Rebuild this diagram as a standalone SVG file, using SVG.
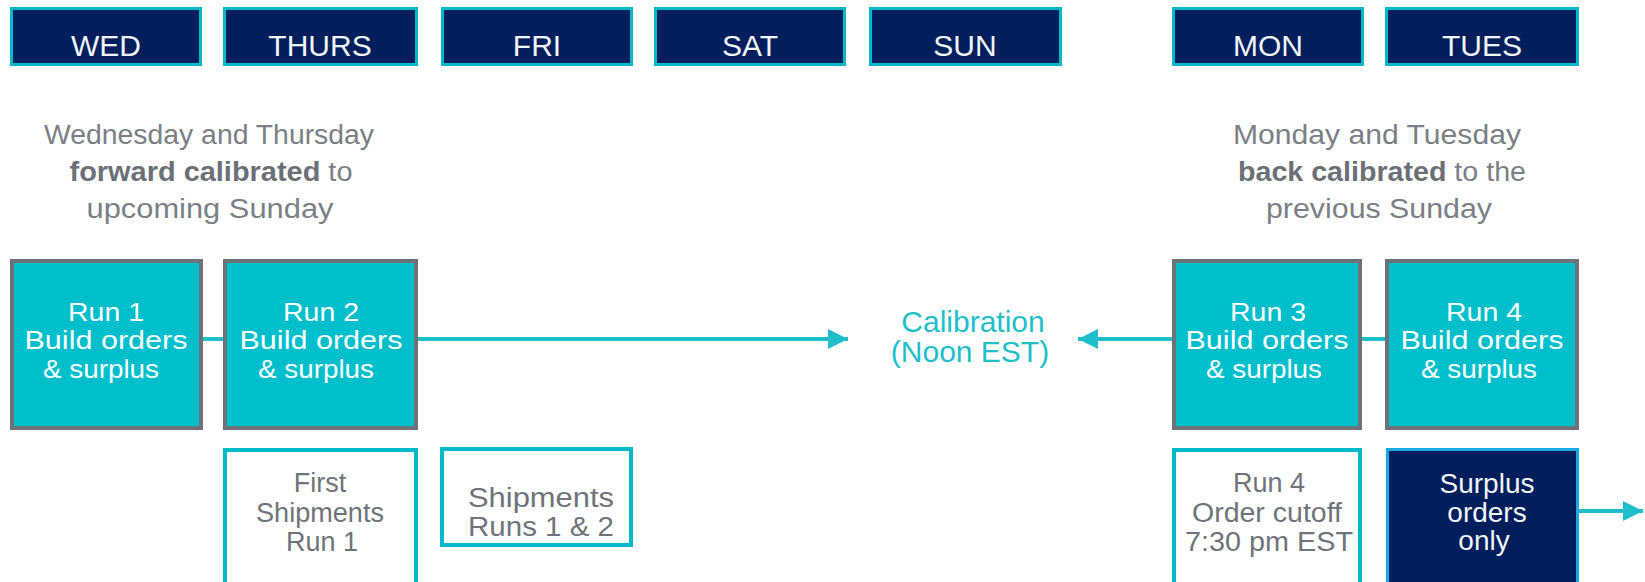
<svg xmlns="http://www.w3.org/2000/svg" width="1645" height="582" viewBox="0 0 1645 582">
<defs>
<style>
.day{fill:#001F5C;stroke:#00B9C8;stroke-width:3}
.dayt{font-family:"Liberation Sans",Arial,sans-serif;font-size:30px;fill:#F2F4F8;text-anchor:middle}
.run{fill:#00BFCC;stroke:#6C7278;stroke-width:4}
.runt{font-family:"Liberation Sans",Arial,sans-serif;font-size:25px;fill:#FFFFFF;text-anchor:middle}
.surt{font-family:"Liberation Sans",Arial,sans-serif;font-size:28px;fill:#F2F4F8;text-anchor:middle}
.ship{fill:#FFFFFF;stroke:#00B9C8;stroke-width:4}
.shipt{font-family:"Liberation Sans",Arial,sans-serif;font-size:27px;fill:#6F747A;text-anchor:middle}
.desc{font-family:"Liberation Sans",Arial,sans-serif;font-size:27px;fill:#7B8086;text-anchor:middle}
.bold{font-weight:bold;fill:#6B7076}
.cal{font-family:"Liberation Sans",Arial,sans-serif;font-size:30px;fill:#1EBFCB;text-anchor:middle}
.conn{stroke:#1EBFCB;stroke-width:4;fill:none}
</style>
<marker id="ah" viewBox="0 0 10 10" refX="10" refY="5" markerWidth="5" markerHeight="5" markerUnits="strokeWidth" orient="auto">
<path d="M0,0 L10,5 L0,10 Z" fill="#1EBFCB"/>
</marker>
</defs>

<g id="connectors">
<line class="conn" x1="203" y1="339" x2="225" y2="339"/>
<line class="conn" x1="418" y1="339" x2="848" y2="339" marker-end="url(#ah)"/>
<line class="conn" x1="1172" y1="339" x2="1078" y2="339" marker-end="url(#ah)"/>
<line class="conn" x1="1362" y1="339" x2="1387" y2="339"/>
<line class="conn" x1="1579" y1="511" x2="1643" y2="511" marker-end="url(#ah)"/>
</g>

<g id="day-wed"><rect class="day" x="11.5" y="8.5" width="189" height="56"/><text class="dayt" x="106" y="56">WED</text></g>
<g id="day-thurs"><rect class="day" x="224.5" y="8.5" width="192" height="56"/><text class="dayt" x="320" y="56">THURS</text></g>
<g id="day-fri"><rect class="day" x="442.5" y="8.5" width="189" height="56"/><text class="dayt" x="537" y="56">FRI</text></g>
<g id="day-sat"><rect class="day" x="655.5" y="8.5" width="189" height="56"/><text class="dayt" x="750" y="56">SAT</text></g>
<g id="day-sun"><rect class="day" x="870.5" y="8.5" width="190" height="56"/><text class="dayt" x="965" y="56">SUN</text></g>
<g id="day-mon"><rect class="day" x="1173.5" y="8.5" width="189" height="56"/><text class="dayt" x="1268" y="56">MON</text></g>
<g id="day-tues"><rect class="day" x="1386.5" y="8.5" width="191" height="56"/><text class="dayt" x="1482" y="56">TUES</text></g>

<g id="desc-left">
<text class="desc" x="209" y="144" textLength="330" lengthAdjust="spacingAndGlyphs">Wednesday and Thursday</text>
<text class="desc" x="211" y="181" textLength="283" lengthAdjust="spacingAndGlyphs"><tspan class="bold">forward calibrated</tspan> to</text>
<text class="desc" x="210" y="218" textLength="247" lengthAdjust="spacingAndGlyphs">upcoming Sunday</text>
</g>
<g id="desc-right">
<text class="desc" x="1377" y="144" textLength="288" lengthAdjust="spacingAndGlyphs">Monday and Tuesday</text>
<text class="desc" x="1382" y="181" textLength="288" lengthAdjust="spacingAndGlyphs"><tspan class="bold">back calibrated</tspan> to the</text>
<text class="desc" x="1379" y="218" textLength="226" lengthAdjust="spacingAndGlyphs">previous Sunday</text>
</g>

<g id="run1"><rect class="run" x="12" y="261" width="189" height="167"/>
<text class="runt" x="106" y="321" textLength="76" lengthAdjust="spacingAndGlyphs">Run 1</text><text class="runt" x="106" y="349" textLength="163" lengthAdjust="spacingAndGlyphs">Build  orders</text><text class="runt" x="101" y="378" textLength="116" lengthAdjust="spacingAndGlyphs">&amp; surplus</text></g>
<g id="run2"><rect class="run" x="225" y="261" width="191" height="167"/>
<text class="runt" x="321" y="321" textLength="76" lengthAdjust="spacingAndGlyphs">Run 2</text><text class="runt" x="321" y="349" textLength="163" lengthAdjust="spacingAndGlyphs">Build  orders</text><text class="runt" x="316" y="378" textLength="116" lengthAdjust="spacingAndGlyphs">&amp; surplus</text></g>
<g id="run3"><rect class="run" x="1174" y="261" width="186" height="167"/>
<text class="runt" x="1268" y="321" textLength="76" lengthAdjust="spacingAndGlyphs">Run 3</text><text class="runt" x="1267" y="349" textLength="163" lengthAdjust="spacingAndGlyphs">Build  orders</text><text class="runt" x="1264" y="378" textLength="116" lengthAdjust="spacingAndGlyphs">&amp; surplus</text></g>
<g id="run4"><rect class="run" x="1387" y="261" width="190" height="167"/>
<text class="runt" x="1484" y="321" textLength="76" lengthAdjust="spacingAndGlyphs">Run 4</text><text class="runt" x="1482" y="349" textLength="163" lengthAdjust="spacingAndGlyphs">Build  orders</text><text class="runt" x="1479" y="378" textLength="116" lengthAdjust="spacingAndGlyphs">&amp; surplus</text></g>

<g id="calibration">
<text class="cal" x="973" y="332">Calibration</text>
<text class="cal" x="970" y="362">(Noon EST)</text>
</g>

<g id="first-shipments"><rect class="ship" x="225" y="450" width="191" height="140"/>
<text class="shipt" x="320" y="492">First</text><text class="shipt" x="320" y="522" textLength="128" lengthAdjust="spacingAndGlyphs">Shipments</text><text class="shipt" x="322" y="551">Run 1</text></g>
<g id="shipments-runs"><rect class="ship" x="442" y="449" width="189" height="96"/>
<text class="shipt" x="541" y="507" textLength="146" lengthAdjust="spacingAndGlyphs">Shipments</text><text class="shipt" x="541" y="536" textLength="146" lengthAdjust="spacingAndGlyphs">Runs 1 &amp; 2</text></g>
<g id="run4-cutoff"><rect class="ship" x="1174" y="450" width="186" height="140"/>
<text class="shipt" x="1269" y="492">Run 4</text><text class="shipt" x="1267" y="522" textLength="150" lengthAdjust="spacingAndGlyphs">Order cutoff</text><text class="shipt" x="1269" y="551" textLength="168" lengthAdjust="spacingAndGlyphs">7:30 pm EST</text></g>
<g id="surplus-only"><rect x="1387.5" y="449.5" width="190" height="140" fill="#001F5C" stroke="#1AA8E0" stroke-width="3"/>
<text class="surt" x="1487" y="493">Surplus</text><text class="surt" x="1487" y="522">orders</text><text class="surt" x="1484" y="550">only</text></g>
</svg>
